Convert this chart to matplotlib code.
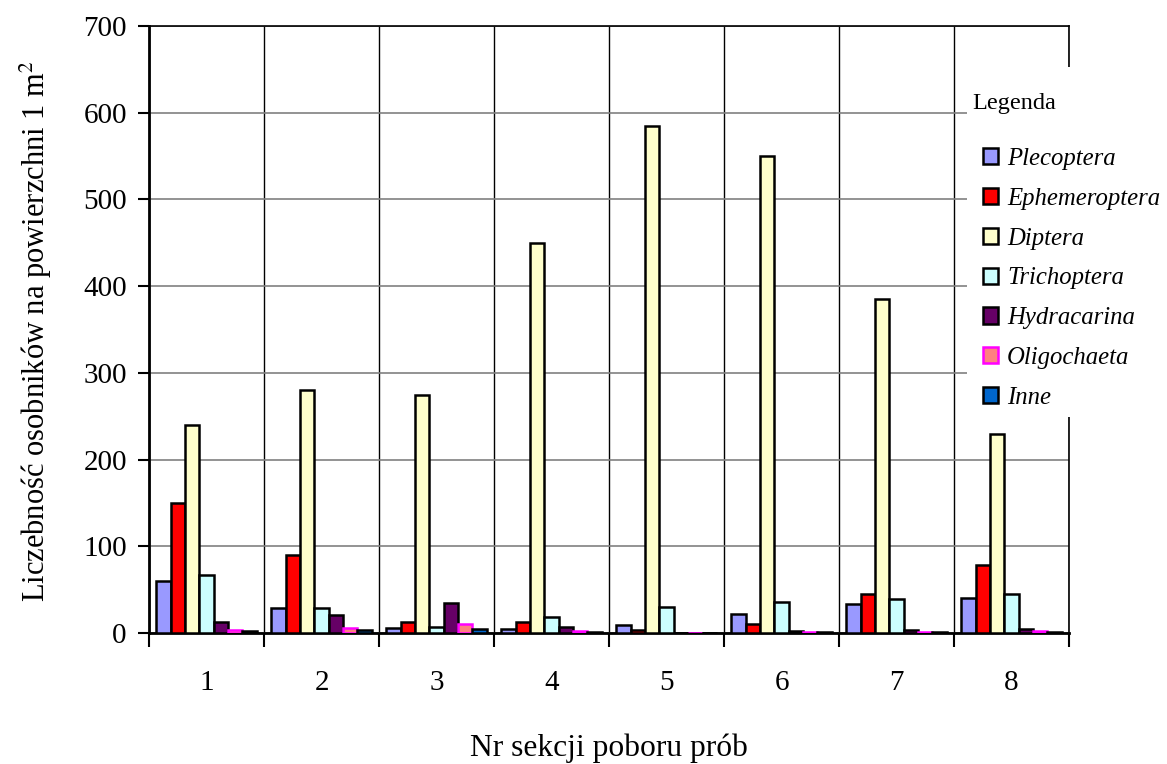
import numpy as np
import matplotlib
matplotlib.use("Agg")
import matplotlib.pyplot as plt
from matplotlib.patches import Rectangle

plt.rcParams['font.family'] = ['Liberation Serif', 'DejaVu Serif']
plt.rcParams['mathtext.fontset'] = 'stix'

sections = ["1", "2", "3", "4", "5", "6", "7", "8"]
taxa = ["Plecoptera", "Ephemeroptera", "Diptera", "Trichoptera",
        "Hydracarina", "Oligochaeta", "Inne"]

plecoptera = [60, 29, 6, 5, 9, 22, 33, 40]
ephemeroptera = [150, 90, 13, 13, 3, 10, 45, 78]
diptera = [240, 280, 275, 450, 585, 550, 385, 230]
trichoptera = [67, 29, 7, 19, 30, 36, 39, 45]
hydracarina = [13, 21, 35, 7, 0, 2, 3, 5]
oligochaeta = [4, 6, 10, 2, 0, 1, 1, 2]
inne = [2, 3, 5, 1, 0, 1, 1, 1]

series = [plecoptera, ephemeroptera, diptera, trichoptera,
          hydracarina, oligochaeta, inne]
faces = ["#9999FF", "#FF0000", "#FFFFCC", "#CCFFFF", "#660066", "#FF8080", "#0066CC"]
edges = ["black", "black", "black", "black", "black", "#FF00FF", "black"]

W, H = 1167, 764
fig = plt.figure(figsize=(W / 100, H / 100), dpi=100)
ax = fig.add_axes([149 / W, 1 - 633 / H, 920 / W, 607 / H])

x = np.arange(len(sections))
w = 0.125
for i, (vals, fc, ec, name) in enumerate(zip(series, faces, edges, taxa)):
    ax.bar(x + (i - 3) * w, vals, width=w, color=fc, edgecolor=ec,
           linewidth=1.8, label=name, zorder=3)

ax.set_xlim(-0.5, len(sections) - 0.5)
ax.set_ylim(0, 700)
ax.set_yticks(np.arange(0, 701, 100))
ax.set_xticks(x)
ax.set_xticklabels(sections)
ax.set_xticks(np.arange(len(sections) + 1) - 0.5, minor=True)
ax.tick_params(axis='x', which='major', length=0, pad=27, labelsize=21)
ax.tick_params(axis='x', which='minor', length=10, width=1.5, direction='out')
ax.tick_params(axis='y', length=8, width=1.5, direction='out', pad=8, labelsize=21)

ax.yaxis.grid(True, color="#808080", linewidth=1.2, zorder=0)
ax.xaxis.grid(True, which='minor', color="black", linewidth=1.0, zorder=0)
for side in ["left", "bottom"]:
    ax.spines[side].set_linewidth(2)
for side in ["top", "right"]:
    ax.spines[side].set_linewidth(1.2)

# axis titles
fig.text(36 / W, 1 - 331 / H, "Liczebność osobników na powierzchni 1 m$^{2}$",
         fontsize=22, rotation=90, ha='center', va='center')
fig.text(609 / W, 1 - 748 / H, "Nr sekcji poboru prób",
         fontsize=22.7, ha='center', va='center')

# white panel behind the legend, hiding the grid and right spine
fig.patches.append(Rectangle((967 / W, 1 - 417 / H), (W - 967) / W, 350 / H,
                             transform=fig.transFigure, facecolor='white',
                             edgecolor='none', zorder=5))
fig.text(972 / W, 1 - 103 / H, "Legenda", fontsize=17.5, va='center', ha='left', zorder=6)

leg = fig.legend(loc='upper left', bbox_to_anchor=(983 / W, 1 - 148 / H),
                 borderaxespad=0, frameon=False,
                 prop={'style': 'italic', 'size': 17.8},
                 handlelength=0.62, handleheight=0.62, handletextpad=0.35,
                 labelspacing=0.72, borderpad=0)
leg.set_zorder(10)

fig.savefig("out.png", dpi=100)
